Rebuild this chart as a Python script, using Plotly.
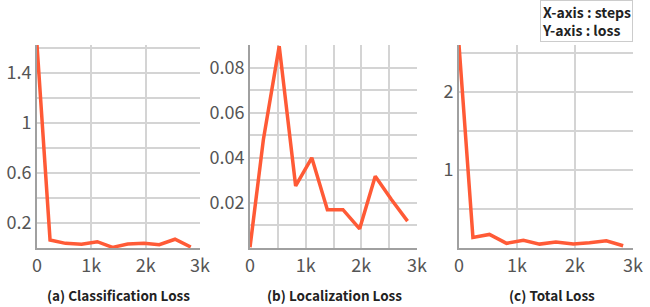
import plotly.graph_objects as go

steps = [0, 240, 525, 820, 1110, 1390, 1670, 1970, 2250, 2540, 2830]
cls_loss = [1.62, 0.064, 0.037, 0.03, 0.05, 0.005, 0.032, 0.037, 0.026, 0.07, 0.008]
loc_loss = [0.0003, 0.048, 0.0895, 0.0275, 0.040, 0.017, 0.017, 0.0085, 0.0318, 0.0215, 0.0119]
tot_loss = [2.6, 0.136, 0.174, 0.06, 0.10, 0.05, 0.076, 0.05, 0.067, 0.093, 0.029]

captions = ["(a) Classification Loss", "(b) Localization Loss", "(c) Total Loss"]
legend_lines = ["X-axis : steps", "Y-axis : loss"]

x_ticks_a = [0, 1000, 2000, 3000]
x_text_a = ["0", "1k", "2k", "3k"]
x_ticks_b = [0, 500, 1000, 1500, 2000, 2500, 3000]
x_text_b = ["0", "", "1k", "", "2k", "", "3k"]
y_ticks_a = [0, 0.2, 0.4, 0.6, 0.8, 1.0, 1.2, 1.4, 1.6]
y_text_a = ["", "0.2", "", "0.6", "", "1", "", "1.4", ""]
y_ticks_b = [0, 0.01, 0.02, 0.03, 0.04, 0.05, 0.06, 0.07, 0.08, 0.09]
y_text_b = ["", "", "0.02", "", "0.04", "", "0.06", "", "0.08", ""]
y_ticks_c = [0, 0.5, 1.0, 1.5, 2.0, 2.5]
y_text_c = ["", "", "1", "", "2", ""]

LINE = "#ff5a36"
GRID = "#d4d4d4"
AXIS = "#a0a0a0"
FAM = "Noto Sans CJK KR, Noto Sans, sans-serif"
TICKFONT = dict(family=FAM, size=18, color="#555555")

W, H = 650, 307


def px(x):
    return x / W


def py(y):
    return 1 - y / H


doms_x = [(px(37), px(200)), (px(250), px(417)), (px(459), px(633))]
dom_y = (py(248), py(45))

fig = go.Figure()
series = [cls_loss, loc_loss, tot_loss]
for i, ys in enumerate(series):
    sfx = "" if i == 0 else str(i + 1)
    fig.add_trace(go.Scatter(x=steps, y=ys, mode="lines",
                             line=dict(color=LINE, width=3.5),
                             xaxis="x" + sfx, yaxis="y" + sfx,
                             showlegend=False, hoverinfo="skip"))

xcfg = [(x_ticks_a, x_text_a), (x_ticks_b, x_text_b), (x_ticks_a, x_text_a)]
ycfg = [(y_ticks_a, y_text_a, [0, 1.62]), (y_ticks_b, y_text_b, [0, 0.09]), (y_ticks_c, y_text_c, [0, 2.6])]

layout = {}
for i in range(3):
    sfx = "" if i == 0 else str(i + 1)
    tv, tt = xcfg[i]
    layout["xaxis" + sfx] = dict(domain=doms_x[i], range=[0, 3000], tickvals=tv, ticktext=tt,
                                 showgrid=True, gridcolor=GRID, gridwidth=1.5,
                                 showline=True, linecolor=AXIS, linewidth=2,
                                 zeroline=False, ticks="", tickfont=TICKFONT,
                                 anchor="y" + sfx, automargin=False, fixedrange=True)
    ytv, ytt, yr = ycfg[i]
    layout["yaxis" + sfx] = dict(domain=dom_y, range=yr, tickvals=ytv, ticktext=ytt,
                                 showgrid=True, gridcolor=GRID, gridwidth=1.5,
                                 showline=True, linecolor=AXIS, linewidth=2,
                                 zeroline=False, ticks="", tickfont=TICKFONT,
                                 anchor="x" + sfx, automargin=False, fixedrange=True)

centers = [118, 335, 552]
annotations = []
for c, txt in zip(centers, captions):
    annotations.append(dict(x=px(c), y=py(295), xref="paper", yref="paper",
                            text="<b>" + txt + "</b>", showarrow=False,
                            font=dict(family=FAM, size=13.5, color="#222222"),
                            xanchor="center", yanchor="middle"))

annotations.append(dict(x=px(540), y=py(0), xref="paper", yref="paper",
                        text="<b>" + "<br>".join(legend_lines) + "</b>", showarrow=False,
                        align="left", xanchor="left", yanchor="top",
                        font=dict(family=FAM, size=14, color="#222222"),
                        bordercolor="#cccccc", borderwidth=1, borderpad=1, bgcolor="white"))

fig.update_layout(width=W, height=H, margin=dict(l=0, r=0, t=0, b=0),
                  paper_bgcolor="white", plot_bgcolor="white",
                  annotations=annotations, **layout)

fig.write_html("out.html", config={"displayModeBar": False},
               post_script="document.body.style.margin='0';document.body.style.overflow='hidden';")
